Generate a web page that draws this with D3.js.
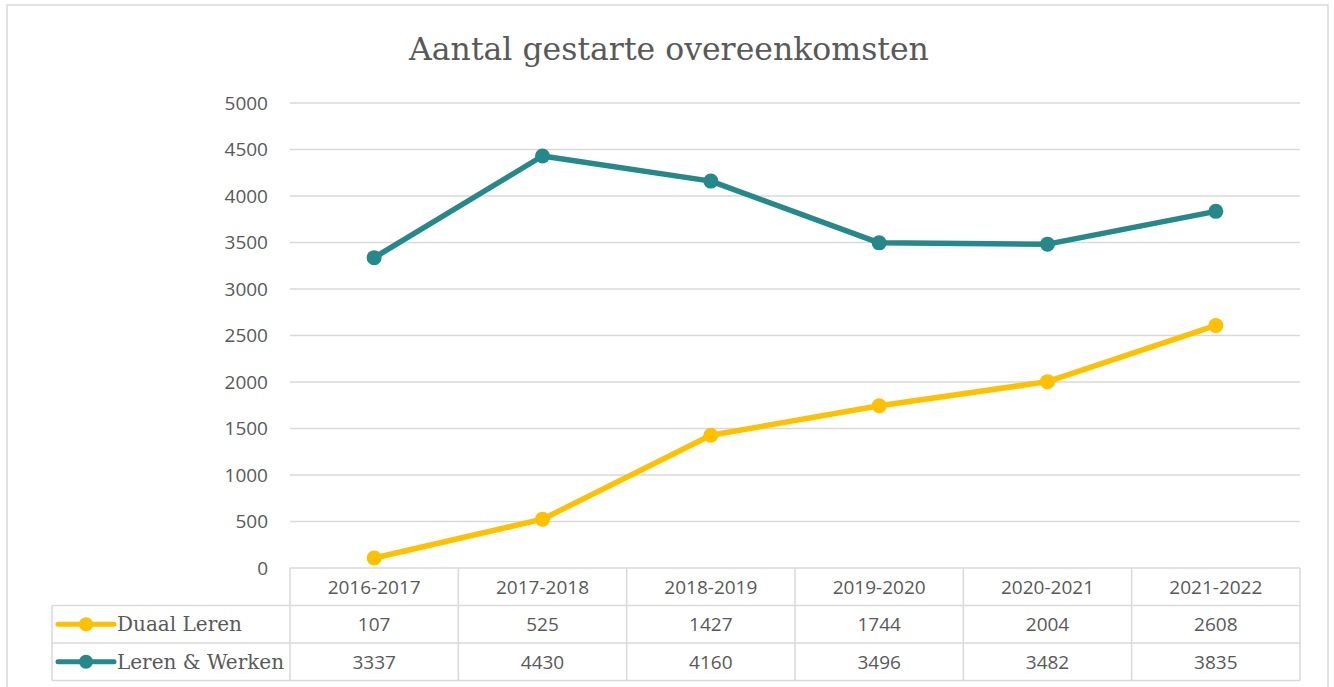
<!DOCTYPE html>
<html>
<head>
<meta charset="utf-8">
<script src="https://cdn.jsdelivr.net/npm/d3@7"></script>
<style>
  body { margin: 0; background: #fff; }
  text { fill: #595959; }
</style>
</head>
<body>
<script>
const categories = ["2016-2017", "2017-2018", "2018-2019", "2019-2020", "2020-2021", "2021-2022"];
const duaalLeren = [107, 525, 1427, 1744, 2004, 2608];
const lerenWerken = [3337, 4430, 4160, 3496, 3482, 3835];
const yTicks = [0, 500, 1000, 1500, 2000, 2500, 3000, 3500, 4000, 4500, 5000];
const seriesNames = ["Duaal Leren", "Leren & Werken"];
const seriesColors = ["#FFC000", "#25888B"];

const w = 1334, h = 687;
const plotLeft = 290, plotRight = 1300, plotTop = 103, plotBottom = 568;
const rowH = 37.5;
const legendLeft = 52;

const svg = d3.select("body").append("svg")
  .attr("width", w).attr("height", h);

// chart border
svg.append("rect")
  .attr("x", 7).attr("y", 5).attr("width", 1321).attr("height", 700)
  .attr("fill", "#fff").attr("stroke", "#D9D9D9").attr("stroke-width", 1.5);

// title
svg.append("text")
  .attr("x", 669).attr("y", 60)
  .attr("text-anchor", "middle")
  .style("font-family", "'DejaVu Serif', serif")
  .style("font-size", "31.5px")
  .text("Aantal gestarte overeenkomsten");

const x = d3.scaleBand().domain(categories).range([plotLeft, plotRight]);
const y = d3.scaleLinear().domain([0, 5000]).range([plotBottom, plotTop]);

// gridlines
svg.append("g").selectAll("line")
  .data(yTicks.filter(d => d > 0))
  .enter().append("line")
  .attr("x1", plotLeft).attr("x2", plotRight)
  .attr("y1", d => y(d)).attr("y2", d => y(d))
  .attr("stroke", "#D9D9D9").attr("stroke-width", 1.5);

// y axis labels
const yAxis = d3.axisLeft(y).tickValues(yTicks).tickFormat(d3.format("d"))
  .tickSize(0).tickPadding(22);
const gy = svg.append("g")
  .attr("transform", "translate(" + plotLeft + ",0)")
  .call(yAxis);
gy.select(".domain").remove();
gy.selectAll("text")
  .style("font-family", "'Open Sans', sans-serif")
  .style("font-size", "19px")
  .attr("fill", "#595959");

// data table
const table = svg.append("g");
const tableColor = "#D9D9D9";
table.append("line").attr("x1", plotLeft).attr("x2", plotRight)
  .attr("y1", plotBottom).attr("y2", plotBottom).attr("stroke", tableColor).attr("stroke-width", 1.5);
[1, 2, 3].forEach(i => {
  table.append("line").attr("x1", legendLeft).attr("x2", plotRight)
    .attr("y1", plotBottom + i * rowH).attr("y2", plotBottom + i * rowH)
    .attr("stroke", tableColor).attr("stroke-width", 1.5);
});
table.append("line").attr("x1", legendLeft).attr("x2", legendLeft)
  .attr("y1", plotBottom + rowH).attr("y2", plotBottom + 3 * rowH)
  .attr("stroke", tableColor).attr("stroke-width", 1.5);
categories.concat([null]).forEach(c => {
  const xx = c ? x(c) : plotRight;
  table.append("line").attr("x1", xx).attr("x2", xx)
    .attr("y1", plotBottom).attr("y2", plotBottom + 3 * rowH)
    .attr("stroke", tableColor).attr("stroke-width", 1.5);
});

// category labels
table.selectAll(".cat").data(categories).enter().append("text")
  .attr("x", d => x(d) + x.bandwidth() / 2)
  .attr("y", plotBottom + rowH / 2 + 7)
  .attr("text-anchor", "middle")
  .style("font-family", "'Open Sans', sans-serif")
  .style("font-size", "19px")
  .text(d => d);

const allSeries = [duaalLeren, lerenWerken];
allSeries.forEach((vals, si) => {
  const ry = plotBottom + (si + 1) * rowH + rowH / 2;
  table.selectAll(".val" + si).data(vals).enter().append("text")
    .attr("x", (d, i) => x(categories[i]) + x.bandwidth() / 2)
    .attr("y", ry + 7)
    .attr("text-anchor", "middle")
    .style("font-family", "'Open Sans', sans-serif")
    .style("font-size", "19px")
    .text(d => d);
  // legend key
  table.append("line")
    .attr("x1", 58).attr("x2", 114).attr("y1", ry).attr("y2", ry)
    .attr("stroke", seriesColors[si]).attr("stroke-width", 5).attr("stroke-linecap", "round");
  table.append("circle").attr("cx", 86).attr("cy", ry).attr("r", 7)
    .attr("fill", seriesColors[si]);
  table.append("text")
    .attr("x", 117).attr("y", ry + 7)
    .style("font-family", "'DejaVu Serif', serif")
    .style("font-size", "20px")
    .text(seriesNames[si]);
});

// lines
const line = d3.line()
  .x((d, i) => x(categories[i]) + x.bandwidth() / 2)
  .y(d => y(d));

allSeries.forEach((vals, si) => {
  svg.append("path")
    .datum(vals)
    .attr("d", line)
    .attr("fill", "none")
    .attr("stroke", seriesColors[si])
    .attr("stroke-width", 5.5)
    .attr("stroke-linejoin", "round")
    .attr("stroke-linecap", "round");
  svg.append("g").selectAll("circle")
    .data(vals).enter().append("circle")
    .attr("cx", (d, i) => x(categories[i]) + x.bandwidth() / 2)
    .attr("cy", d => y(d))
    .attr("r", 7.5)
    .attr("fill", seriesColors[si]);
});
</script>
</body>
</html>
